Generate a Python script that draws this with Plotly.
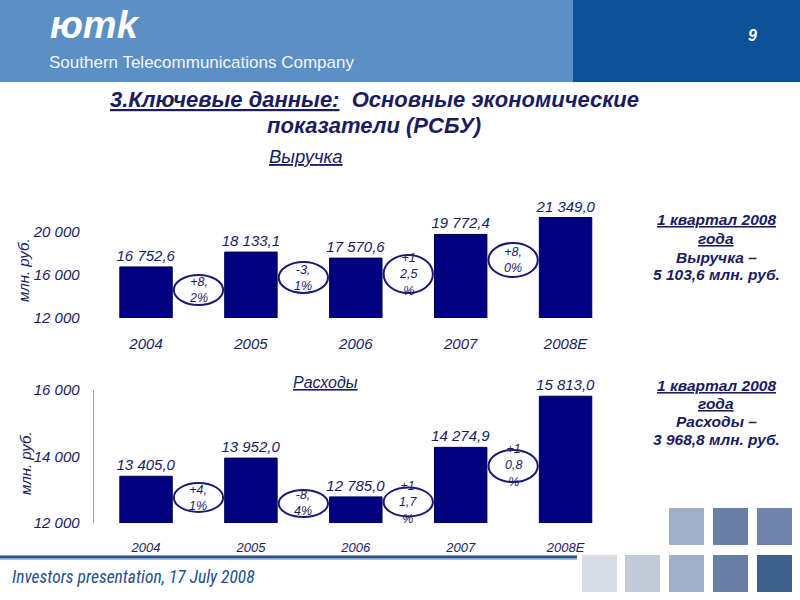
import plotly.graph_objects as go

# ---------------- data ----------------
years = ["2004", "2005", "2006", "2007", "2008E"]
revenue = [16752.6, 18133.1, 17570.6, 19772.4, 21349.0]
expenses = [13405.0, 13952.0, 12785.0, 14274.9, 15813.0]
rev_growth = ["+8,<br>2%", "-3,<br>1%", "+1<br>2,5<br>%", "+8,<br>0%"]
exp_growth = ["+4,<br>1%", "-8,<br>4%", "+1<br>1,7<br>%", "+1<br>0,8<br>%"]
rev_ticks = [12000, 16000, 20000]
exp_ticks = [12000, 14000, 16000]

W, H = 800, 600
NAVY = "#1B1B5F"
BAR = "#000080"
FONT = "Liberation Sans, Arial, sans-serif"


def X(px):
    return px / W


def Y(py):
    return 1 - py / H


def fmt1(v):
    return f"{v:,.1f}".replace(",", " ").replace(".", ",")


def fmt0(v):
    return f"{v:,.0f}".replace(",", " ")


fig = go.Figure()

fig.add_trace(go.Bar(
    x=years, y=revenue, xaxis="x", yaxis="y", width=0.5,
    marker=dict(color=BAR, line=dict(color="#00004A", width=1)),
    text=[fmt1(v) for v in revenue], textposition="outside",
    constraintext="none", cliponaxis=False,
    textfont=dict(size=15, color=NAVY, style="italic", family=FONT),
    hoverinfo="skip", showlegend=False,
))
fig.add_trace(go.Bar(
    x=years, y=expenses, xaxis="x2", yaxis="y2", width=0.5,
    marker=dict(color=BAR, line=dict(color="#00004A", width=1)),
    text=[fmt1(v) for v in expenses], textposition="outside",
    constraintext="none", cliponaxis=False,
    textfont=dict(size=15, color=NAVY, style="italic", family=FONT),
    hoverinfo="skip", showlegend=False,
))

xdom = [X(93.6), X(618)]
common_x = dict(range=[-0.5, 4.5], type="category", showgrid=False, showline=False,
                zeroline=False, ticks="outside", tickcolor="rgba(0,0,0,0)",
                fixedrange=True, automargin=False)
fig.update_layout(
    width=W, height=H, margin=dict(l=0, r=0, t=0, b=0, pad=0, autoexpand=False),
    paper_bgcolor="white", plot_bgcolor="rgba(0,0,0,0)",
    font=dict(family=FONT, color=NAVY),
    xaxis=dict(domain=xdom, anchor="y", ticklen=12,
               tickfont=dict(size=15, color=NAVY, style="italic"), **common_x),
    yaxis=dict(domain=[Y(318), Y(210.5)], range=[12000, 22000], anchor="x",
               tickvals=rev_ticks, ticktext=[fmt0(v) for v in rev_ticks],
               ticks="outside", ticklen=10, tickcolor="rgba(0,0,0,0)",
               showgrid=False, zeroline=False, showline=False, fixedrange=True,
               automargin=False,
               tickfont=dict(size=15, color=NAVY, style="italic")),
    xaxis2=dict(domain=xdom, anchor="y2", ticklen=12,
                tickfont=dict(size=13, color=NAVY, style="italic"), **common_x),
    yaxis2=dict(domain=[Y(523), Y(390)], range=[12000, 16000], anchor="x2",
                tickvals=exp_ticks, ticktext=[fmt0(v) for v in exp_ticks],
                ticks="outside", ticklen=10, tickcolor="rgba(0,0,0,0)",
                showgrid=False, zeroline=False, showline=True,
                linecolor="#A0A0A0", linewidth=1, fixedrange=True,
                automargin=False,
                tickfont=dict(size=15, color=NAVY, style="italic")),
    bargap=0.5,
)

shapes = []
# header bands
shapes.append(dict(type="rect", xref="paper", yref="paper", x0=X(0), x1=X(573),
                   y0=Y(82), y1=Y(0), fillcolor="#5C8FC3", line=dict(width=0), layer="below"))
shapes.append(dict(type="rect", xref="paper", yref="paper", x0=X(573), x1=X(800),
                   y0=Y(82), y1=Y(0), fillcolor="#0C5097", line=dict(width=0), layer="below"))
# footer line
shapes.append(dict(type="line", xref="paper", yref="paper", x0=X(0), x1=X(577),
                   y0=Y(557), y1=Y(557), line=dict(color="#24508C", width=3)))
shapes.append(dict(type="line", xref="paper", yref="paper", x0=X(0), x1=X(577),
                   y0=Y(559.5), y1=Y(559.5), line=dict(color="#A9BDD8", width=1)))
# decorative squares
squares = [
    (669, 508, "#9FAFC8"), (713, 508, "#6A7FA4"), (757, 508, "#6F84A8"),
    (582, 555, "#D5DCE6"), (625, 555, "#C2CAD8"), (669, 555, "#9FAFC8"),
    (713, 555, "#6A7FA4"), (757, 555, "#3F5F8F"),
]
for sx, sy, col in squares:
    shapes.append(dict(type="rect", xref="paper", yref="paper", x0=X(sx), x1=X(sx + 35),
                       y0=Y(sy + 37), y1=Y(sy), fillcolor=col, line=dict(width=0),
                       layer="below"))

# growth ellipses (centre y in px, height in px)
rev_ell = [(290, 30), (277.5, 31), (274, 38), (260, 34)]
exp_ell = [(497.5, 29), (503.5, 27), (502, 29), (466, 32)]
ann = []
for axis, ells, labels in (("x", rev_ell, rev_growth), ("x2", exp_ell, exp_growth)):
    for i, ((cy, h), lab) in enumerate(zip(ells, labels)):
        shapes.append(dict(type="circle", xref=axis, yref="paper",
                           x0=i + 0.5 - 0.235, x1=i + 0.5 + 0.235,
                           y0=Y(cy + h / 2), y1=Y(cy - h / 2),
                           line=dict(color="#1A1A70", width=2)))
        ann.append(dict(xref=axis, yref="paper", x=i + 0.5, y=Y(cy), text=lab,
                        showarrow=False, xanchor="center", yanchor="middle",
                        font=dict(size=12.5, color=NAVY, style="italic")))


def txt(x, y, text, size, color=NAVY, xanchor="center", bold=False, italic=True,
        family=FONT, angle=0):
    ann.append(dict(xref="paper", yref="paper", x=X(x), y=Y(y), text=text,
                    showarrow=False, xanchor=xanchor, yanchor="middle", textangle=angle,
                    font=dict(size=size, color=color, family=family,
                              weight="bold" if bold else "normal",
                              style="italic" if italic else "normal")))


# header texts
txt(48, 25, "юmk", 38, color="white", xanchor="left", bold=True)
txt(47, 63, "Southern Telecommunications Company", 17, color="#F2F5FA",
    xanchor="left", italic=False)
txt(752, 35, "9", 16, color="white", bold=True)

# titles
txt(374, 100, "<u>3.Ключевые данные:</u>  Основные экономические", 22, bold=True)
txt(374, 125, "показатели (РСБУ)", 22, bold=True)
txt(305, 156, "<u>Выручка</u>", 18.5)
txt(325, 382, "<u>Расходы</u>", 16)

# axis unit labels
txt(23, 270, "млн. руб.", 15, angle=-90)
txt(26, 463, "млн. руб.", 15, angle=-90)

# side notes
for yy, line in zip([219, 238, 257, 275],
                    ["<u>1 квартал 2008</u>", "<u>года</u>", "Выручка –", "5 103,6 млн. руб."]):
    txt(716, yy, line, 15.5, bold=True)
for yy, line in zip([385, 403, 421, 439],
                    ["<u>1 квартал 2008</u>", "<u>года</u>", "Расходы –", "3 968,8 млн. руб."]):
    txt(716, yy, line, 15.5, bold=True)

# footer
txt(10, 577, "Investors presentation, 17 July 2008", 17.5, color="#23508F",
    xanchor="left", family="Liberation Sans Narrow, Arial Narrow, Roboto Condensed, sans-serif")

fig.update_layout(shapes=shapes, annotations=ann)

page_fix = """
var s = document.createElement('style');
s.innerHTML = 'html,body{margin:0;padding:0;overflow:hidden;}';
document.head.appendChild(s);
"""
fig.write_html("out.html", config={"displayModeBar": False}, post_script=page_fix)
